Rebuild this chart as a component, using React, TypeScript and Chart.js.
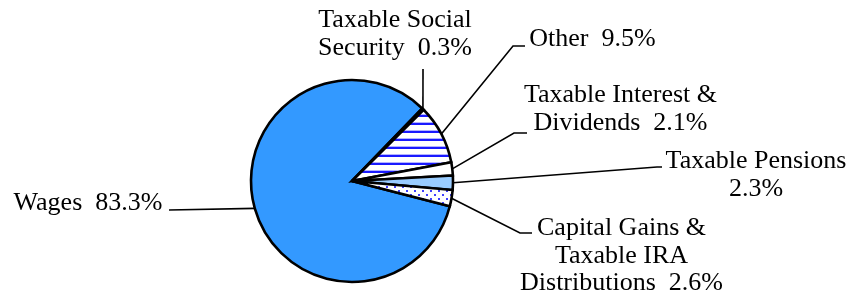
import React, { useEffect, useRef } from "react";
import { Chart, registerables } from "chart.js";

Chart.register(...registerables);

// ---- data ----
const categoryLines: string[][] = [
  ["Wages"],
  ["Taxable Social", "Security"],
  ["Other"],
  ["Taxable Interest &", "Dividends"],
  ["Taxable Pensions", ""],
  ["Capital Gains &", "Taxable IRA", "Distributions"],
];
const shares: number[] = [83.3, 0.3, 9.5, 2.1, 2.3, 2.6];

// ---- layout (offsets from pie centre, px) ----
type LabelLayout = { cx: number; by: number; leader: [number, number][] };
const labelLayout: LabelLayout[] = [
  { cx: -264, by: 29, leader: [[-183, 29]] },
  { cx: 43, by: -154, leader: [[71, -112]] },
  { cx: 240.5, by: -135, leader: [[161, -135], [173, -135]] },
  { cx: 268.5, by: -79, leader: [[162, -48], [175, -48]] },
  { cx: 404, by: -13, leader: [[305, -14], [310, -14]] },
  { cx: 269.5, by: 54, leader: [[168, 52], [180, 52]] },
];
const LINE_H = 27.5;
const FONT = "26px 'Liberation Serif', 'Times New Roman', serif";

function buildLabel(i: number): string[] {
  const lines = categoryLines[i].slice();
  const last = lines.length - 1;
  const val = shares[i].toFixed(1) + "%";
  lines[last] = lines[last] ? lines[last] + "  " + val : val;
  return lines;
}

function makeStripes(ctx: CanvasRenderingContext2D) {
  const t = document.createElement("canvas");
  t.width = 8;
  t.height = 8;
  const c = t.getContext("2d")!;
  c.fillStyle = "#ffffff";
  c.fillRect(0, 0, 8, 8);
  c.fillStyle = "#b3b3ff";
  c.fillRect(0, 2, 8, 1);
  c.fillStyle = "#1a1aff";
  c.fillRect(0, 3, 8, 2);
  return ctx.createPattern(t, "repeat")!;
}

function makeDots(ctx: CanvasRenderingContext2D) {
  const t = document.createElement("canvas");
  t.width = 8;
  t.height = 8;
  const c = t.getContext("2d")!;
  c.fillStyle = "#ffffff";
  c.fillRect(0, 0, 8, 8);
  c.fillStyle = "#4040ff";
  c.fillRect(2, 2, 2, 2);
  c.fillRect(6, 6, 2, 2);
  return ctx.createPattern(t, "repeat")!;
}

const leaderPlugin = {
  id: "leaderLabels",
  afterDraw(chart: any) {
    const ctx: CanvasRenderingContext2D = chart.ctx;
    const meta = chart.getDatasetMeta(0);
    ctx.save();
    meta.data.forEach((arc: any, i: number) => {
      const p = arc.getProps(["x", "y", "startAngle", "endAngle", "outerRadius"], true);
      const mid = (p.startAngle + p.endAngle) / 2;
      const ex = p.x + Math.cos(mid) * p.outerRadius;
      const ey = p.y + Math.sin(mid) * p.outerRadius;
      const lay = labelLayout[i];
      ctx.strokeStyle = "#000";
      ctx.lineWidth = 1.6;
      ctx.beginPath();
      ctx.moveTo(ex, ey);
      lay.leader.forEach(([dx, dy]) => ctx.lineTo(p.x + dx, p.y + dy));
      ctx.stroke();
      ctx.fillStyle = "#000";
      ctx.font = FONT;
      ctx.textAlign = "center";
      ctx.textBaseline = "alphabetic";
      buildLabel(i).forEach((line, k) => {
        ctx.fillText(line, p.x + lay.cx, p.y + lay.by + k * LINE_H);
      });
    });
    ctx.restore();
  },
};

export default function App() {
  const ref = useRef<HTMLCanvasElement | null>(null);
  useEffect(() => {
    const canvas = ref.current!;
    const ctx = canvas.getContext("2d")!;
    const colors: any[] = [
      "#3399ff",
      "#ffffff",
      makeStripes(ctx),
      "#ffffff",
      "#99ccff",
      makeDots(ctx),
    ];
    const chart = new Chart(canvas, {
      type: "pie",
      data: {
        labels: categoryLines.map((l) => l.join(" ")),
        datasets: [
          {
            data: shares,
            backgroundColor: colors,
            borderColor: "#000000",
            borderWidth: 2.6,
            borderJoinStyle: "miter",
            hoverOffset: 0,
          },
        ],
      },
      options: {
        animation: false,
        responsive: false,
        devicePixelRatio: 1,
        rotation: 104.5,
        radius: 101,
        layout: { padding: { left: 0, right: 152, top: 58, bottom: 0 } },
        plugins: {
          legend: { display: false },
          tooltip: { enabled: false },
        },
      },
      plugins: [leaderPlugin],
    } as any);
    return () => chart.destroy();
  }, []);
  return (
    <div style={{ position: "absolute", left: 0, top: 0, width: 856, height: 304, background: "#fff" }}>
      <canvas ref={ref} width={856} height={304} style={{ display: "block" }} />
    </div>
  );
}
